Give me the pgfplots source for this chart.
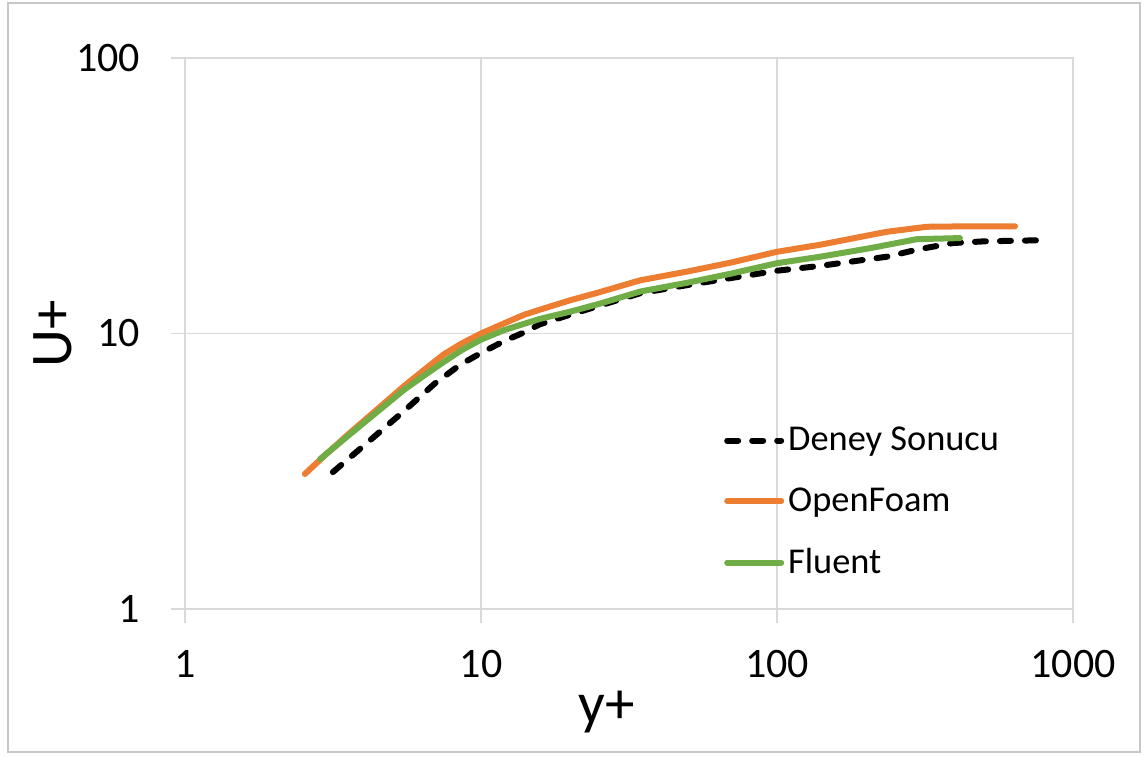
\documentclass[border=0pt]{standalone}
\usepackage{pgfplots}
\pgfplotsset{compat=1.18}
\usepackage{fontspec}
\setmainfont{Carlito}
\definecolor{ofoam}{HTML}{ED7D31}
\definecolor{flu}{HTML}{70AD47}
\definecolor{gridc}{HTML}{D9D9D9}
\begin{document}
\begin{tikzpicture}
\useasboundingbox (-92.5bp,-74bp) rectangle (481.5bp,304.5bp);
\draw[gridc!80!gray, line width=0.8bp] (-88.5bp,-71.5bp) rectangle (477.5bp,303bp);
\begin{axis}[
  at={(0,0)}, anchor=origin,
  scale only axis,
  width=444bp, height=275.5bp,
  xmode=log, ymode=log,
  xmin=1, xmax=1000, ymin=1, ymax=100,
  log basis x=10, log basis y=10,
  xtick={1,10,100,1000}, ytick={1,10,100},
  xticklabels={1,10,100,1000}, yticklabels={1,10,100},
  minor xtick={}, minor ytick={},
  grid=major,
  major grid style={gridc, line width=0.6bp},
  axis line style={gridc, line width=0.6bp},
  tick style={gridc, line width=0.6bp},
  major tick length=7bp,
  tick align=outside,
  xtick pos=bottom, ytick pos=left,
  ticklabel style={font=\fontsize{21bp}{24bp}\selectfont, text=black},
  xticklabel style={yshift=-10bp},
  yticklabel style={xshift=-12bp},
  xlabel={y+}, ylabel={U+},
  label style={font=\fontsize{29.5bp}{32bp}\selectfont},
  xlabel style={at={(axis description cs:0.475,0)}, anchor=center, yshift=-51.5bp},
  ylabel style={at={(axis description cs:0,0.5)}, anchor=center, rotate=0, yshift=66bp},
  legend style={draw=none, fill=none, at={(0.6,0.345)}, anchor=north west,
    font=\fontsize{18.2bp}{21bp}\selectfont, row sep=13bp,
    legend cell align=left},
  legend image code/.code={\draw[#1] (0bp,0bp) -- (27bp,0bp);},
]
\addplot[black, line width=3bp, line cap=round, dash pattern=on 5.5bp off 7bp] coordinates {
(3.16,3.14) (4,3.9) (5.45,5.19) (7,6.6) (8.5,7.7) (10,8.5) (12,9.4) (14,10.1)
(15.8,10.8) (20,11.7) (25,12.6) (34.5,14.0) (50,15.0) (70,15.9) (100,16.9)
(140,17.6) (235,19.0) (300,20.2) (393,21.3) (500,21.6) (774,21.8)
};
\addlegendentry{Deney Sonucu}
\addplot[ofoam, line width=3bp, line cap=round] coordinates {
(2.54,3.09) (3,3.65) (3.6,4.35) (4.32,5.15) (5.5,6.45) (6.5,7.45) (7.44,8.36) (8.6,9.2) (10,10.0) (12,10.9)
(14,11.7) (15.8,12.2) (20,13.2) (25,14.1) (34.5,15.6) (50,16.8) (70,18.1) (100,19.8)
(140,21.0) (235,23.4) (321,24.4) (450,24.5) (637,24.5)
};
\addlegendentry{OpenFoam}
\addplot[flu, line width=3bp, line cap=round] coordinates {
(2.86,3.5) (3.6,4.3) (4.32,5.05) (5.5,6.25) (6.5,7.1) (7.44,7.85) (8.6,8.7) (10,9.5) (12,10.3) (15.8,11.3)
(20,12.0) (25,12.8) (34.5,14.2) (50,15.3) (70,16.5) (100,18.0) (140,19.0)
(206,20.4) (297,22.0) (415,22.2)
};
\addlegendentry{Fluent}
\end{axis}
\end{tikzpicture}
\end{document}
